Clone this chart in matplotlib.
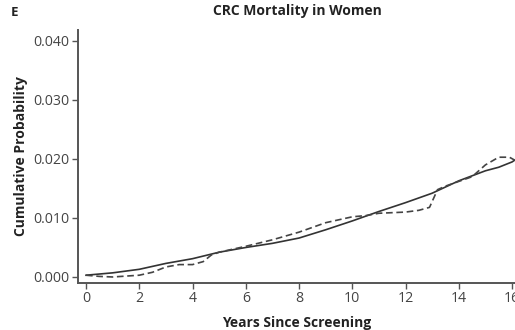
import matplotlib.pyplot as plt

# solid line (screening group model) and dashed line (observed)
solid_x = [0, 1, 2, 3, 4, 5, 6, 7, 8, 9, 10, 11, 12, 13, 14, 15, 15.5, 16, 16.1]
solid_y = [0.0003, 0.0007, 0.0013, 0.0023, 0.0031, 0.0042, 0.0050, 0.0057, 0.0066,
           0.0080, 0.0095, 0.0111, 0.0126, 0.0142, 0.0163, 0.0180, 0.0186, 0.0195, 0.0198]

dash_x = [0, 0.5, 1, 2, 2.5, 3, 3.5, 4, 4.4, 4.7, 5, 6, 7, 8, 9, 10, 10.5, 11, 12,
          12.5, 12.9, 13.2, 13.5, 14, 14.5, 15, 15.5, 15.9, 16.1]
dash_y = [0.0003, 0.0001, 0.0, 0.0003, 0.0008, 0.0017, 0.0021, 0.0021, 0.0026, 0.0037,
          0.0042, 0.0052, 0.0063, 0.0076, 0.0092, 0.0102, 0.0104, 0.0108, 0.0110,
          0.0113, 0.0118, 0.0148, 0.0154, 0.0162, 0.0170, 0.0190, 0.0203, 0.0203, 0.0198]

xticks = [0, 2, 4, 6, 8, 10, 12, 14, 16]
yticks = [0.000, 0.010, 0.020, 0.030, 0.040]

plt.rcParams['font.family'] = ['Open Sans', 'DejaVu Sans']

fig = plt.figure(figsize=(5.15, 3.30), dpi=100)
ax = fig.add_axes([78/515, 1 - 283/330, 1 - 78/515, (283 - 30)/330])

ax.plot(solid_x, solid_y, color='#333333', lw=1.2)
ax.plot(dash_x, dash_y, color='#444444', lw=1.2, ls=(0, (4, 2.2)))

ax.set_xlim(-0.3, 16.11)
ax.set_ylim(-0.00102, 0.04186)
ax.set_xticks(xticks)
ax.set_xticklabels([str(t) for t in xticks])
ax.set_yticks(yticks)
ax.set_yticklabels(['%.3f' % t for t in yticks])

for s in ['top', 'right']:
    ax.spines[s].set_visible(False)
for s in ['left', 'bottom']:
    ax.spines[s].set_color('#555555')
    ax.spines[s].set_linewidth(1.4)
ax.tick_params(colors='#555555', labelcolor='#444444', labelsize=10.2, length=4, width=1, pad=2)

ax.set_ylabel('Cumulative Probability', fontsize=10, fontweight='bold', color='#222222', labelpad=4)
ax.set_xlabel('Years Since Screening', fontsize=10, fontweight='bold', color='#222222', labelpad=7)
fig.text(297/515, 1 - 11/330, 'CRC Mortality in Women', fontsize=10, fontweight='bold',
         color='#222222', ha='center', va='center')
fig.text(11/515, 1 - 13/330, 'E', fontsize=9.5, fontweight='bold', color='#222222',
         ha='left', va='center')

fig.savefig('out.png', dpi=100)
